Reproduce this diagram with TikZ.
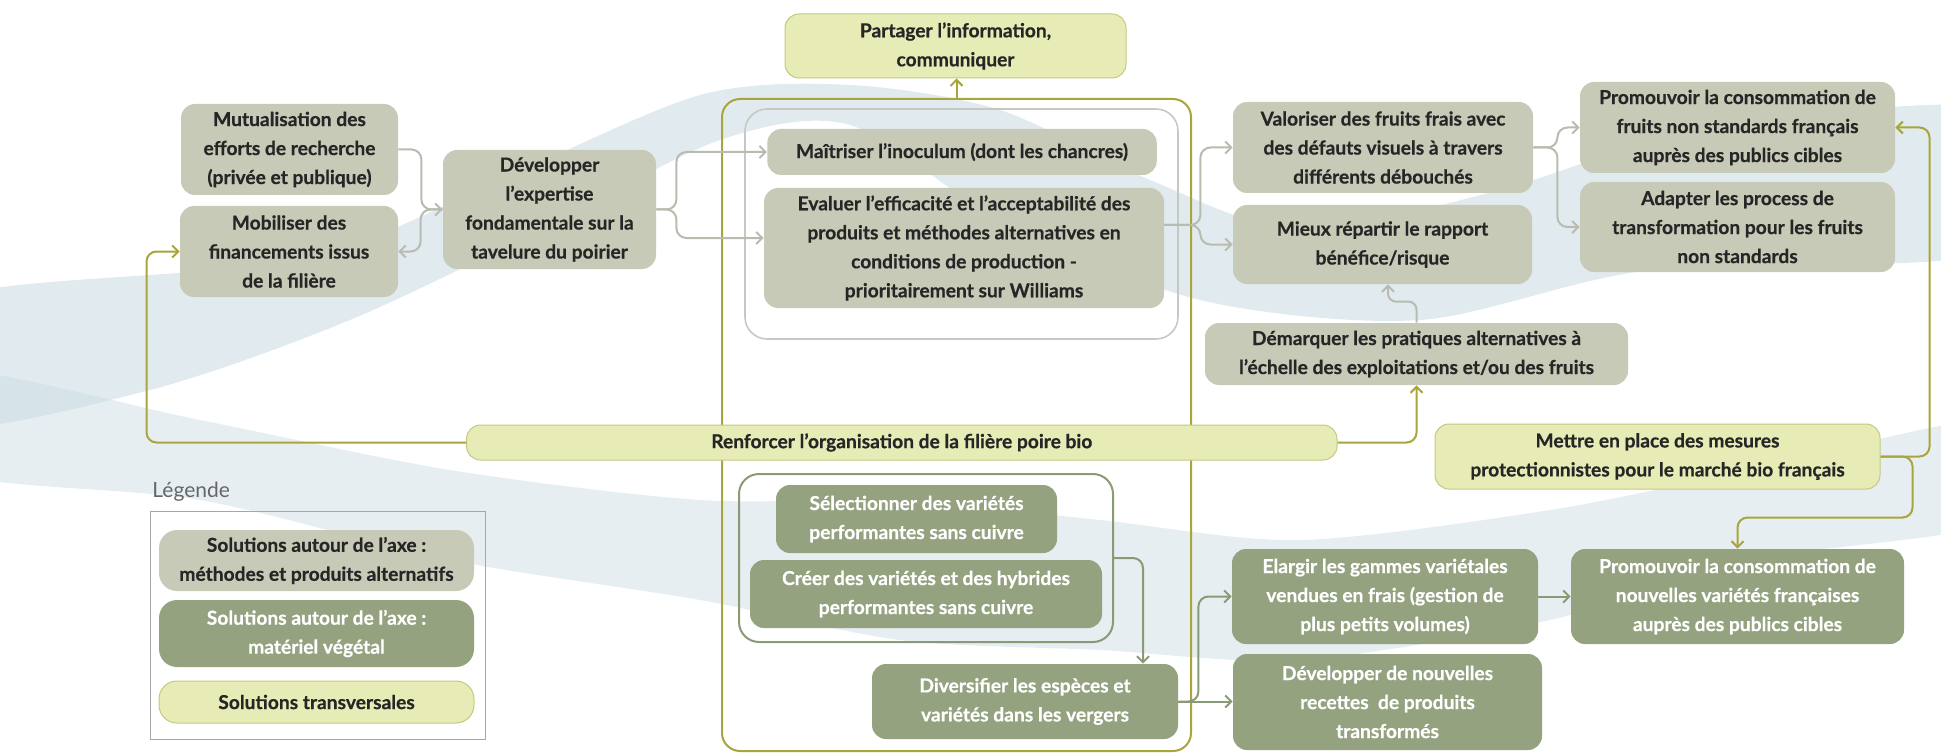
\documentclass[tikz,border=0pt]{standalone}
\usepackage{fontspec}
\setmainfont{Lato}[BoldFeatures = {FakeBold = 0.6}]
\usetikzlibrary{arrows.meta}

\definecolor{methcol}{RGB}{200,202,184}
\definecolor{vegcol}{RGB}{148,162,128}
\definecolor{transcol}{RGB}{231,236,183}
\definecolor{transline}{RGB}{196,200,128}
\definecolor{oliveline}{RGB}{168,166,58}
\definecolor{greyline}{RGB}{184,187,176}
\definecolor{greenline}{RGB}{138,154,116}
\definecolor{wavecol}{RGB}{200,218,225}
\definecolor{textcol}{RGB}{38,38,38}

\newcommand{\boxfont}{\fontsize{9.6}{14.5}\selectfont\bfseries}

\tikzset{
	methbox/.style = {rectangle, rounded corners = 7pt, fill = methcol, text = textcol, align = center, inner sep = 0pt, font = \boxfont},
	vegbox/.style = {rectangle, rounded corners = 7pt, fill = vegcol, text = white, align = center, inner sep = 0pt, font = \boxfont},
	transbox/.style = {rectangle, rounded corners = 7pt, fill = transcol, draw = transline, line width = 0.5pt, text = textcol, align = center, inner sep = 0pt, font = \boxfont},
	greyarrow/.style = {->, draw = greyline, line width = 1pt, rounded corners = 5pt},
	olivearrow/.style = {->, draw = oliveline, line width = 1pt, rounded corners = 5pt},
	greenarrow/.style = {->, draw = greenline, line width = 1pt, rounded corners = 5pt}
}

\begin{document}
\begin{tikzpicture}[> = {Straight Barb[length = 3pt, width = 6pt]}, x = 0.5pt, y = -0.5pt]

	\useasboundingbox (0, 0) rectangle (1941, 754);

	% Background waves

	\begin{scope}
		\clip (0, 0) rectangle (1941, 754);
		\fill [wavecol, opacity = 0.55] plot [smooth cycle] coordinates {(-60, 425) (150, 390) (350, 320) (550, 225) (720, 140) (850, 125) (1000, 220) (1200, 300) (1420, 320) (1650, 270) (2000, 250) (2000, 110) (1700, 130) (1500, 190) (1300, 230) (1150, 180) (1000, 110) (850, 85) (700, 95) (500, 180) (300, 260) (-60, 300)};
		\fill [wavecol, opacity = 0.45] plot [smooth cycle] coordinates {(-60, 370) (200, 420) (450, 470) (700, 500) (900, 500) (1100, 520) (1300, 540) (1550, 510) (1750, 470) (2000, 420) (2000, 520) (1750, 560) (1550, 620) (1300, 660) (1100, 650) (900, 640) (700, 600) (450, 560) (200, 500) (-60, 470)};
	\end{scope}

	% Frames

	\node [draw = oliveline, line width = 1pt, rounded corners = 9pt, minimum width = 234.5pt, minimum height = 326pt] (axe) at (956.5, 425) {};
	\node [draw = greyline!80, line width = 0.8pt, rounded corners = 11pt, minimum width = 216.5pt, minimum height = 115pt] (meth) at (961.5, 224) {};
	\node [draw = greenline, line width = 1pt, rounded corners = 10pt, minimum width = 187pt, minimum height = 84pt] (vari) at (926, 558) {};

	% Boxes: methods and alternative products

	\node [methbox, minimum width = 108.5pt, minimum height = 45.5pt] (mutu) at (289.5, 149.5) {Mutualisation des\\efforts de recherche\\(privée et publique)};
	\node [methbox, minimum width = 109pt, minimum height = 45.5pt] (mobi) at (289, 251.5) {Mobiliser des\\financements issus\\de la filière};
	\node [methbox, minimum width = 106.5pt, minimum height = 59.5pt] (dvlp) at (549.5, 209.5) {Développer\\l’expertise\\fondamentale sur la\\tavelure du poirier};
	\node [methbox, minimum width = 194.75pt, minimum height = 23pt] (inoc) at (962, 152) {Maîtriser l’inoculum (dont les chancres)};
	\node [methbox, minimum width = 200pt, minimum height = 60pt] (eval) at (964, 248) {Evaluer l’efficacité et l’acceptabilité des\\produits et méthodes alternatives en\\conditions de production -\\prioritairement sur Williams};
	\node [methbox, minimum width = 150pt, minimum height = 45.5pt] (valo) at (1383, 147.5) {Valoriser des fruits frais avec\\des défauts visuels à travers\\différents débouchés};
	\node [methbox, minimum width = 149.5pt, minimum height = 39.5pt] (risk) at (1382.5, 244.5) {Mieux répartir le rapport\\bénéfice/risque};
	\node [methbox, minimum width = 157.5pt, minimum height = 45.5pt] (promo1) at (1737.5, 127.5) {Promouvoir la consommation de\\fruits non standards français\\auprès des publics cibles};
	\node [methbox, minimum width = 157.5pt, minimum height = 45pt] (adapt) at (1737.5, 227) {Adapter les process de\\transformation pour les fruits\\non standards};
	\node [methbox, minimum width = 211.5pt, minimum height = 31pt] (demarq) at (1416.5, 354) {Démarquer les pratiques alternatives à\\l’échelle des exploitations et/ou des fruits};

	% Boxes: plant material

	\node [vegbox, minimum width = 140.5pt, minimum height = 34pt] (selec) at (916.5, 519) {Sélectionner des variétés\\performantes sans cuivre};
	\node [vegbox, minimum width = 176pt, minimum height = 34pt] (creer) at (926, 594) {Créer des variétés et des hybrides\\performantes sans cuivre};
	\node [vegbox, minimum width = 153pt, minimum height = 37.5pt] (diver) at (1025, 701.5) {Diversifier les espèces et\\variétés dans les vergers};
	\node [vegbox, minimum width = 153pt, minimum height = 47.5pt] (elarg) at (1385, 596.5) {Elargir les gammes variétales\\vendues en frais (gestion de\\plus petits volumes)};
	\node [vegbox, minimum width = 154.5pt, minimum height = 48pt] (recet) at (1387.5, 702) {Développer de nouvelles\\recettes \ de produits\\transformés};
	\node [vegbox, minimum width = 166.5pt, minimum height = 47.5pt] (promo2) at (1737.5, 596.5) {Promouvoir la consommation de\\nouvelles variétés françaises\\auprès des publics cibles};

	% Boxes: transversal solutions

	\node [transbox, minimum width = 170.5pt, minimum height = 32pt] (share) at (955.5, 46) {Partager l’information,\\communiquer};
	\node [transbox, minimum width = 435.25pt, minimum height = 17.5pt] (orga) at (901.75, 442.5) {Renforcer l’organisation de la filière poire bio};
	\node [transbox, minimum width = 222.5pt, minimum height = 32.5pt] (mesure) at (1657.5, 456.5) {Mettre en place des mesures\\protectionnistes pour le marché bio français};

	% Grey connectors

	\draw [greyarrow] (mutu.east) -- ++(23, 0) |- (dvlp.west);
	\draw [greyarrow] (dvlp.west) -- ++(-22, 0) |- (mobi.east);
	\draw [greyarrow] (dvlp.east) -- ++(20, 0) |- (inoc.west);
	\draw [greyarrow] (dvlp.east) -- ++(20, 0) |- ([yshift = 5pt] eval.west);
	\draw [greyarrow] ([yshift = 11.5pt] eval.east) -- ++(36, 0) |- (valo.west);
	\draw [greyarrow] ([yshift = 11.5pt] eval.east) -- ++(36, 0) |- (risk.west);
	\draw [greyarrow] (valo.east) -- ++(24, 0) |- (promo1.west);
	\draw [greyarrow] (valo.east) -- ++(24, 0) |- (adapt.west);
	\draw [greyarrow, rounded corners = 4pt] (demarq.north) -- ++(0, -21) -| ([xshift = 2.75pt] risk.south);

	% Olive connectors

	\draw [olivearrow] (axe.north) -- (axe.north |- share.south);
	\draw [olivearrow] (orga.west) -- ++(-319.5, 0) |- (mobi.west);
	\draw [olivearrow] (orga.east) -| (demarq.south);
	\draw [olivearrow] (mesure.east) -- ++(49, 0) |- (promo1.east);
	\draw [olivearrow] (mesure.east) -- ++(32, 0) -- ++(0, 61) -| (promo2.north);

	% Green connectors

	\draw [greenarrow] (vari.east) -| ([xshift = 59pt] diver.north);
	\draw [greenarrow] (diver.east) -- ++(20, 0) |- (elarg.west);
	\draw [greenarrow] (diver.east) -- (diver.east -| recet.west);
	\draw [greenarrow] (elarg.east) -- (promo2.west);

	% Legend

	\node [anchor = west, inner sep = 0pt, text = black!60, font = \fontsize{10.5}{12}\selectfont] (legtitle) at (152, 491.7) {Légende};
	\node [draw = black!35, line width = 0.5pt, minimum width = 167.7pt, minimum height = 113.7pt] (leg) at (318, 625.4) {};
	\node [methbox, minimum width = 157.5pt, minimum height = 30.5pt, rounded corners = 9pt] (leg1) at (316.5, 560.5) {Solutions autour de l’axe :\\méthodes et produits alternatifs};
	\node [vegbox, minimum width = 157.5pt, minimum height = 33.5pt, rounded corners = 9pt] (leg2) at (316.5, 633.5) {Solutions autour de l’axe :\\matériel végétal};
	\node [transbox, minimum width = 157.5pt, minimum height = 21pt, rounded corners = 9pt] (leg3) at (316.5, 702) {Solutions transversales};

\end{tikzpicture}
\end{document}
